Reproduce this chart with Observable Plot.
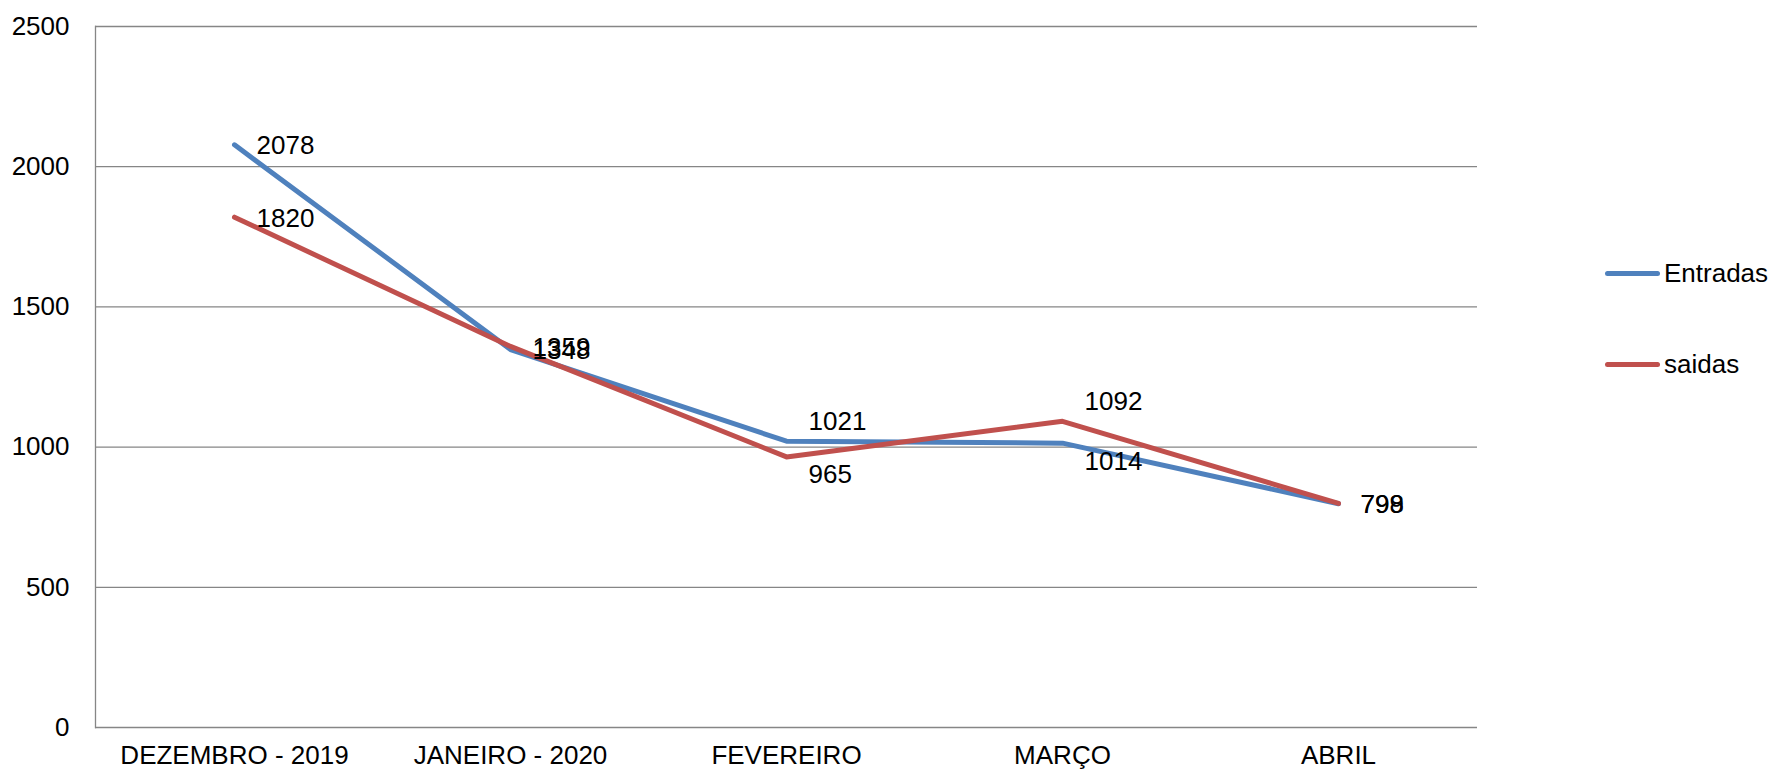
<!DOCTYPE html>
<html>
<head>
<meta charset="utf-8">
<script src="https://cdn.jsdelivr.net/npm/d3@7"></script>
<script src="https://cdn.jsdelivr.net/npm/@observablehq/plot@0.6"></script>
<style>
  body { margin: 0; background: #fff; font-family: "Liberation Sans", Arial, sans-serif; }
  #wrap { position: relative; width: 1775px; height: 772px; }
  #legend { position: absolute; left: 1605px; top: 0; font-size: 26px; color: #000; }
  .item { position: absolute; left: 0; display: flex; align-items: center; white-space: nowrap; }
  .sw { width: 55px; height: 5px; border-radius: 3px; margin-right: 4px; }
</style>
</head>
<body>
<div id="wrap"><div id="legend"></div></div>
<script>
const months = ["DEZEMBRO - 2019", "JANEIRO - 2020", "FEVEREIRO", "MARÇO", "ABRIL"];
const entradas = [2078, 1348, 1021, 1014, 798];
const saidas = [1820, 1359, 965, 1092, 799];
const seriesNames = ["Entradas", "saidas"];
const colors = ["#4F81BD", "#C0504D"];
const yTicks = [0, 500, 1000, 1500, 2000, 2500];

const data = [];
months.forEach((m, i) => {
  data.push({month: m, value: entradas[i], series: seriesNames[0], other: saidas[i]});
});
months.forEach((m, i) => {
  data.push({month: m, value: saidas[i], series: seriesNames[1], other: entradas[i]});
});

// label placement: separate vertically when the two values are close but distinct
function place(d) {
  const diff = d.value - d.other;
  if (Math.abs(diff) > 20 && Math.abs(diff) < 150) return diff > 0 ? "above" : "below";
  return "center";
}
const groups = [["center", 1], ["above", -20], ["below", 18]];

const font = "Liberation Sans, Arial, sans-serif";
const chart = Plot.plot({
  width: 1775,
  height: 772,
  marginLeft: 95,
  marginRight: 298,
  marginTop: 26,
  marginBottom: 45,
  style: {fontFamily: font, fontSize: "26px", color: "#000", background: "#fff"},
  x: {type: "point", domain: months, padding: 0.5, label: null},
  y: {domain: [0, 2500], label: null},
  color: {domain: seriesNames, range: colors},
  marks: [
    Plot.ruleY(yTicks, {stroke: "#868686", strokeWidth: 1.3}),
    Plot.frame({anchor: "left", stroke: "#868686", strokeWidth: 1.3}),
    Plot.axisY({ticks: yTicks, tickFormat: "d", tickSize: 0, tickPadding: 26, fontSize: 26, label: null}),
    Plot.axisX({tickSize: 0, tickPadding: 18, fontSize: 26, label: null}),
    Plot.line(data, {x: "month", y: "value", z: "series", stroke: "series", strokeWidth: 5, strokeLinejoin: "round", strokeLinecap: "round"}),
    ...groups.map(([g, dy]) => Plot.text(data.filter(d => place(d) === g), {
      x: "month", y: "value", text: d => String(d.value),
      textAnchor: "start", dx: 22, dy,
      fontSize: 26, fill: "#000"
    }))
  ]
});
document.getElementById("wrap").prepend(chart);

const legend = document.getElementById("legend");
const legendTops = [273, 364];
seriesNames.forEach((s, i) => {
  const it = document.createElement("div");
  it.className = "item";
  it.style.top = (legendTops[i] - 15) + "px";
  it.style.height = "30px";
  it.innerHTML = `<div class="sw" style="background:${colors[i]}"></div><span>${s}</span>`;
  legend.appendChild(it);
});
</script>
</body>
</html>
